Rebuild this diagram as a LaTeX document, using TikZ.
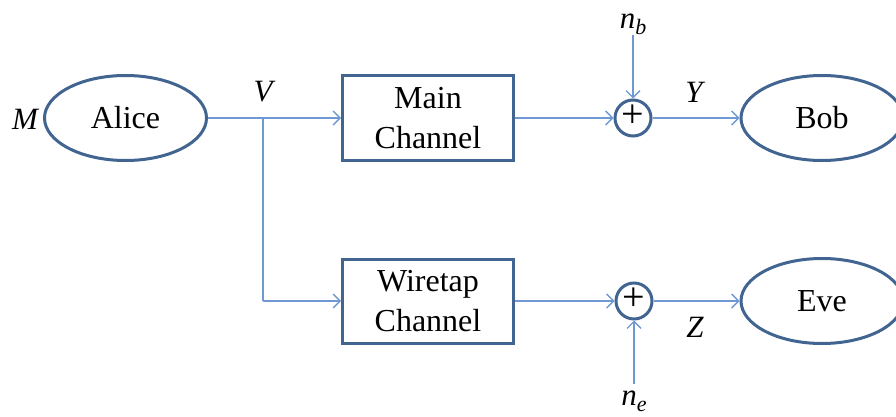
\documentclass[tikz,border=0pt]{standalone}
\usepackage{fontspec}
\setmainfont{Liberation Serif}
\usetikzlibrary{arrows.meta,shapes.geometric}
\definecolor{dark}{RGB}{65,100,145}
\definecolor{light}{RGB}{112,152,210}
\newcommand{\varsub}[2]{\textit{#1}\raisebox{-6pt}{\fontsize{22}{22}\selectfont\textit{#2}}}
\tikzset{
  party/.style={ellipse,draw=dark,line width=3pt,minimum width=162pt,minimum height=85pt,inner sep=0pt,font=\fontsize{32}{40}\selectfont},
  chan/.style={rectangle,draw=dark,line width=3pt,minimum width=171pt,minimum height=84pt,inner sep=0pt,align=center,font=\fontsize{32}{40}\selectfont},
  adder/.style={circle,draw=dark,line width=3pt,minimum size=36pt,inner sep=0pt},
  plus/.style={inner sep=0pt,font=\fontsize{40}{40}\selectfont},
  lbl/.style={inner sep=0pt,font=\fontsize{31}{32}\selectfont\itshape},
  conn/.style={draw=light,line width=1.3pt,-{Straight Barb[length=7pt,width=14pt]}},
  wire/.style={draw=light,line width=1.3pt}
}
\begin{document}
\begin{tikzpicture}[x=1pt,y=-1pt]
\useasboundingbox (0,0) rectangle (896,417);
\node[party] (alice) at (125.5,118) {Alice};
\node[lbl] (m) at (25,119) {M};
\node[lbl] (v) at (263,92) {V};
\node[chan] (main) at (428,118) {Main\\Channel};
\node[chan] (wire) at (428,301) {Wiretap\\Channel};
\node[adder] (p1) at (633,118) {};
\node[adder] (p2) at (634,301) {};
\node[plus] (p1s) at (633,116) {+};
\node[plus] (p2s) at (634,299) {+};
\node[lbl] (nb) at (633,24) {\varsub{n}{b}};
\node[lbl] (ne) at (634,401) {\varsub{n}{e}};
\node[lbl] (y) at (694,92) {Y};
\node[lbl] (z) at (695,327) {Z};
\node[party] (bob) at (822,118) {Bob};
\node[party] (eve) at (822,301) {Eve};
\coordinate (br) at (263,118);
\coordinate (nbt) at (633,35);
\coordinate (neb) at (634,384);
\draw[conn] (alice.east) -- (main.west);
\draw[wire] (br) -- (br |- wire.west);
\draw[conn] (br |- wire.west) -- (wire.west);
\draw[conn] (main.east) -- (p1.west);
\draw[conn] (wire.east) -- (p2.west);
\draw[conn] (p1.east) -- (bob.west);
\draw[conn] (p2.east) -- (eve.west);
\draw[conn] (nbt) -- (p1.north);
\draw[conn] (neb) -- (p2.south);
\end{tikzpicture}
\end{document}
